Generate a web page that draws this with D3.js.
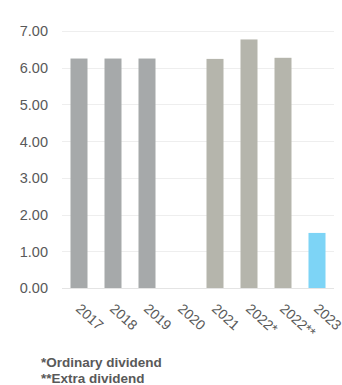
<!DOCTYPE html>
<html>
<head>
<meta charset="utf-8">
<script src="https://cdn.jsdelivr.net/npm/d3@7"></script>
<style>
html,body{margin:0;padding:0;background:#fff;}
svg{display:block;font-family:"Liberation Sans",Arial,sans-serif;}
</style>
</head>
<body>
<svg id="chart" width="342" height="385"></svg>
<script>
const categories = ["2017","2018","2019","2020","2021","2022*","2022**","2023"];
const values = [6.25, 6.25, 6.25, 0, 6.24, 6.77, 6.27, 1.50];
const colorGroups = ["past","past","past","past","recent","recent","recent","current"];
const yTicks = [0,1,2,3,4,5,6,7];
const footnotes = ["*Ordinary dividend","**Extra dividend"];

(function(){
const colors = {past:"#A6A9AA", recent:"#B5B5AC", current:"#7DD4F6"};
const svg = d3.select("#chart");
const mLeft = 62, mRight = 334, mTop = 31, mBottom = 288;

const x = d3.scaleBand().domain(categories).range([mLeft, mRight]).paddingInner(0.5).paddingOuter(0.25);
const y = d3.scaleLinear().domain([0,7]).range([mBottom, mTop]);

// gridlines
svg.append("g").selectAll("line").data(yTicks).join("line")
  .attr("x1", mLeft).attr("x2", mRight)
  .attr("y1", d => Math.round(y(d)) + 0.5).attr("y2", d => Math.round(y(d)) + 0.5)
  .attr("stroke", d => d === 0 ? "#E4E4E4" : "#EEEEEE").attr("stroke-width", 1);

// y axis labels
const yAxis = d3.axisLeft(y).tickValues(yTicks).tickFormat(d3.format(".2f")).tickSize(0).tickPadding(0);
const gy = svg.append("g").attr("transform", `translate(${mLeft-14},0)`).call(yAxis);
gy.select(".domain").remove();
gy.selectAll("text").attr("fill","#595959").style("font-size","14.5px").attr("dy","0.34em");

// bars
svg.append("g").selectAll("rect").data(categories).join("rect")
  .attr("x", d => x(d))
  .attr("width", x.bandwidth())
  .attr("y", (d,i) => y(values[i]))
  .attr("height", (d,i) => y(0) - y(values[i]))
  .attr("fill", (d,i) => colors[colorGroups[i]]);

// x axis labels
const xAxis = d3.axisBottom(x).tickSize(0).tickPadding(0);
const gx = svg.append("g").attr("transform", `translate(0,${mBottom})`).call(xAxis);
gx.select(".domain").remove();
gx.selectAll("text")
  .attr("fill","#595959").style("font-size","14px")
  .attr("text-anchor","start").attr("x",0).attr("y",0).attr("dy",0)
  .attr("transform","translate(-4,22) rotate(42)");

// footnotes
svg.append("g").selectAll("text").data(footnotes).join("text")
  .attr("x", 41).attr("y", (d,i) => 367 + i*16)
  .attr("fill","#595959").style("font-size","13.5px").style("font-weight","bold")
  .text(d => d);
})();
</script>
</body>
</html>
